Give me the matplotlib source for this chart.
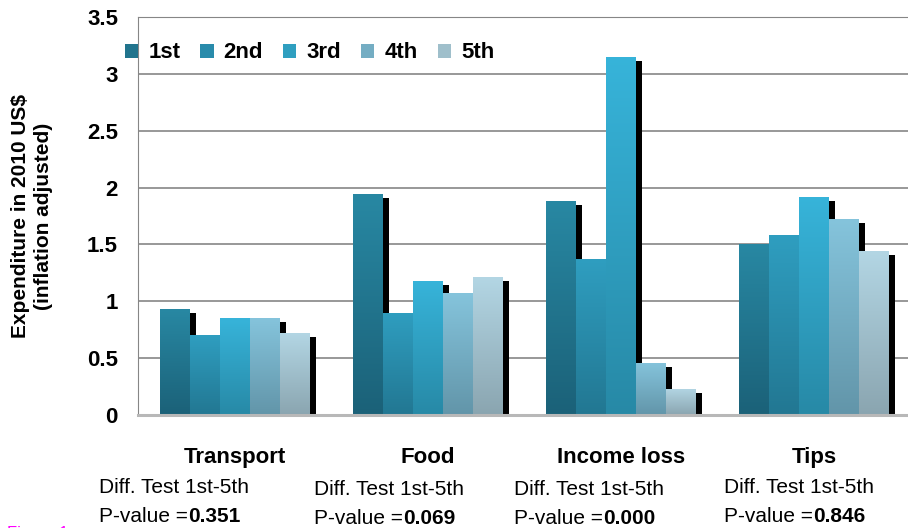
import numpy as np
import matplotlib
matplotlib.use('Agg')
import matplotlib.pyplot as plt
from matplotlib.colors import LinearSegmentedColormap
from matplotlib.patches import Patch
from matplotlib.transforms import offset_copy, blended_transform_factory
from matplotlib.ticker import FuncFormatter

plt.rcParams['font.family'] = ['Liberation Sans', 'DejaVu Sans']

categories = ['Transport', 'Food', 'Income loss', 'Tips']
quintiles = ['1st', '2nd', '3rd', '4th', '5th']
q1 = [0.93, 1.94, 1.88, 1.50]
q2 = [0.70, 0.90, 1.37, 1.58]
q3 = [0.85, 1.18, 3.15, 1.92]
q4 = [0.85, 1.07, 0.46, 1.72]
q5 = [0.72, 1.21, 0.23, 1.44]
series = [q1, q2, q3, q4, q5]
p_values = ['0.351', '0.069', '0.000', '0.846']

# gradient colours per quintile (top, bottom)
top_cols = ['#2888a3', '#2f9ec0', '#37b4da', '#85c4dc', '#b3d6e4']
bot_cols = ['#1b6178', '#227792', '#2789a6', '#6295a9', '#8aa5b0']
mid_cols = ['#21748d', '#298bab', '#2f9fc0', '#74adc3', '#9fbfcb']

W, H = 908, 528
fig = plt.figure(figsize=(W / 100, H / 100), dpi=100)
ax = fig.add_axes([138 / W, 1 - 415 / H, 773 / W, 398 / H])

bw = 0.155
xc = np.arange(len(categories))
grad = np.linspace(0, 1, 256).reshape(-1, 1)
shadow_tr = offset_copy(ax.transData, fig=fig, x=6, y=-4, units='dots')

for j, vals in enumerate(series):
    xs = xc + (j - 2) * bw
    ax.bar(xs, vals, bw, color='black', transform=shadow_tr, zorder=1)
    bars = ax.bar(xs, vals, bw, color='none', linewidth=0, zorder=2)
    cmap = LinearSegmentedColormap.from_list('q%d' % j, [bot_cols[j], top_cols[j]])
    for rect in bars:
        x0 = rect.get_x()
        im = ax.imshow(grad, cmap=cmap, origin='lower', aspect='auto',
                       extent=(x0, x0 + rect.get_width(), 0, rect.get_height()),
                       zorder=2)
        im.set_clip_path(rect)

ax.set_xlim(-0.5, 3.5)
ax.set_ylim(0, 3.5)
ax.set_yticks(np.arange(0, 3.51, 0.5))
ax.yaxis.set_major_formatter(FuncFormatter(lambda v, p: '%g' % v))
ax.set_xticks([])
ax.tick_params(axis='y', length=0, pad=14.4, labelsize=16)
for lbl in ax.get_yticklabels():
    lbl.set_fontweight('bold')
ax.yaxis.grid(True, color='#868686', lw=1.2)
ax.set_axisbelow(True)
ax.spines['right'].set_visible(False)
ax.spines['top'].set_color('#868686')
ax.spines['left'].set_color('#868686')
ax.spines['bottom'].set_color('#b8b8b8')
ax.spines['bottom'].set_linewidth(2.2)

handles = [Patch(facecolor=c, edgecolor='none') for c in mid_cols]
fig.legend(handles, quintiles, loc='center left', bbox_to_anchor=(125 / W, 1 - 53 / H),
           ncol=5, frameon=False, borderpad=0, borderaxespad=0,
           handlelength=0.6, handleheight=0.6, handletextpad=0.45, columnspacing=0.9,
           prop={'weight': 'bold', 'size': 16})

fig.text(32 / W, 1 - 216 / H, 'Expenditure in 2010 US$\n(inflation adjusted)',
         rotation=90, ha='center', va='center', multialignment='center',
         fontsize=15, fontweight='bold', linespacing=1.3)

# category names and test results under each group
btr = blended_transform_factory(ax.transData, fig.transFigure)
diff_x = [99, 314, 514, 724]
diff_y = [493, 495, 495, 493]
pval_y = [522, 524, 524, 522]
for i, cat in enumerate(categories):
    ax.text(xc[i], 1 - 463 / H, cat, transform=btr, ha='center', va='baseline',
            fontsize=16, fontweight='bold')
    fig.text(diff_x[i] / W, 1 - diff_y[i] / H, 'Diff. Test 1st-5th',
             ha='left', va='baseline', fontsize=15)
    t1 = fig.text(diff_x[i] / W, 1 - pval_y[i] / H, 'P-value =',
                  ha='left', va='baseline', fontsize=15)
    fig.canvas.draw()
    fig.text(0, 0, p_values[i], fontsize=15, fontweight='bold',
             transform=offset_copy(fig.transFigure, fig=fig, units='dots',
                                   x=t1.get_window_extent().x1, y=0),
             position=(0, 1 - pval_y[i] / H), ha='left', va='baseline')

fig.text(7 / W, 1 - 526 / H, 'Figure 1', color='magenta', ha='left', va='top', fontsize=12)

fig.savefig('out.png', dpi=100)
